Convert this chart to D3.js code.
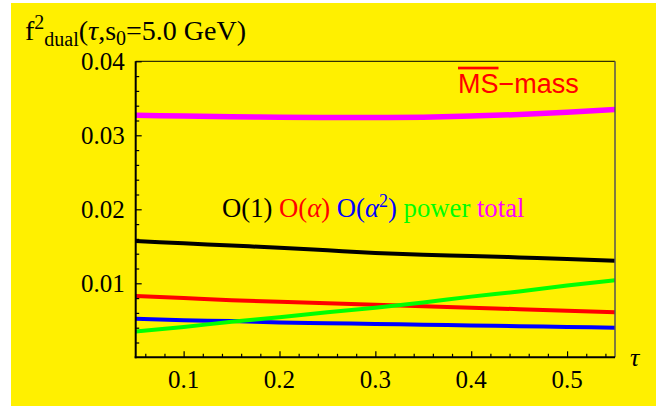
<!DOCTYPE html>
<html>
<head>
<meta charset="utf-8">
<script src="https://cdn.jsdelivr.net/npm/d3@7"></script>
<style>
  body { margin: 0; background: #fff; }
</style>
</head>
<body>
<svg id="chart" width="669" height="407" font-family="'Liberation Serif', 'DejaVu Serif', serif"></svg>
<script>
// tau values (x) and the read-off curves
const tau = [0.05, 0.1, 0.15, 0.2, 0.25, 0.3, 0.35, 0.4, 0.45, 0.5, 0.55];
const order1 = [0.0157, 0.0154, 0.0151, 0.0148, 0.01445, 0.0141, 0.01385, 0.0137, 0.0135, 0.0133, 0.01305];
const orderAlpha = [0.0083, 0.0080, 0.0077, 0.0075, 0.0073, 0.0071, 0.0069, 0.0067, 0.0065, 0.0063, 0.0061];
const orderAlpha2 = [0.0052, 0.0050, 0.0049, 0.0047, 0.0046, 0.0045, 0.0044, 0.0043, 0.0042, 0.0041, 0.0040];
const power = [0.0035, 0.0041, 0.0048, 0.0054, 0.0061, 0.0067, 0.0074, 0.0082, 0.0089, 0.0097, 0.0104];
const total = [0.0327, 0.0326, 0.0325, 0.03245, 0.0324, 0.0324, 0.03245, 0.0326, 0.0328, 0.0331, 0.0335];

const xTicks = [0.1, 0.2, 0.3, 0.4, 0.5];
const yTicks = [0.01, 0.02, 0.03, 0.04];

const series = [
  { name: 'total', values: total, color: '#ff00ff', width: 5.5 },
  { name: 'O(1)', values: order1, color: '#000000', width: 4 },
  { name: 'O(alpha)', values: orderAlpha, color: '#ff0000', width: 4 },
  { name: 'O(alpha2)', values: orderAlpha2, color: '#0000ff', width: 4 },
  { name: 'power', values: power, color: '#00ff00', width: 4 }
];

const serif = "'Liberation Serif', 'DejaVu Serif', serif";
const sans = "'Liberation Sans', Arial, sans-serif";

const svg = d3.select('#chart');

// yellow panel
svg.append('rect')
  .attr('x', 11).attr('y', 3)
  .attr('width', 645).attr('height', 403)
  .attr('fill', '#fff000');

const x = d3.scaleLinear().domain([0.05, 0.55]).range([135.7, 615]);
const y = d3.scaleLinear().domain([0, 0.04]).range([357.3, 61.3]);

// curves
const line = d3.line()
  .x((d, i) => x(tau[i]))
  .y(d => y(d))
  .curve(d3.curveMonotoneX);

svg.append('clipPath').attr('id', 'plot-clip')
  .append('rect')
  .attr('x', x(0.05)).attr('y', y(0.04))
  .attr('width', x(0.55) - x(0.05)).attr('height', y(0) - y(0.04));

svg.append('g')
  .attr('clip-path', 'url(#plot-clip)')
  .selectAll('path')
  .data(series)
  .join('path')
  .attr('d', d => line(d.values))
  .attr('fill', 'none')
  .attr('stroke', d => d.color)
  .attr('stroke-width', d => d.width);

// frame: top + right
svg.append('line')
  .attr('x1', x(0.05)).attr('x2', x(0.55))
  .attr('y1', y(0.04)).attr('y2', y(0.04))
  .attr('stroke', '#000').attr('stroke-width', 1);
svg.append('line')
  .attr('x1', x(0.55)).attr('x2', x(0.55))
  .attr('y1', y(0.04)).attr('y2', y(0))
  .attr('stroke', '#555').attr('stroke-width', 1.5);

// axes with inward ticks
const xMinor = d3.range(0.06, 0.551, 0.02).filter(v => !xTicks.some(t => Math.abs(t - v) < 1e-6));
const yMinor = d3.range(0.002, 0.0401, 0.002).filter(v => !yTicks.some(t => Math.abs(t - v) < 1e-6));

const xAxis = svg.append('g').attr('transform', `translate(0,${y(0)})`);
xAxis.append('g')
  .call(d3.axisTop(x).tickValues(xMinor).tickSize(3.5).tickFormat(''))
  .call(g => g.select('.domain').remove());
xAxis.append('g')
  .call(d3.axisTop(x).tickValues(xTicks).tickSize(6).tickFormat(''))
  .call(g => g.select('.domain').remove());
xAxis.selectAll('.tick line').attr('stroke', '#000').attr('stroke-width', 1.2);
xAxis.append('line')
  .attr('x1', x(0.05) - 1).attr('x2', x(0.55))
  .attr('stroke', '#000').attr('stroke-width', 2);
xAxis.selectAll('.xlabel')
  .data(xTicks)
  .join('text')
  .attr('class', 'xlabel')
  .attr('x', d => x(d))
  .attr('y', 31)
  .attr('text-anchor', 'middle')
  .attr('font-family', serif)
  .attr('font-size', 25)
  .text(d => d3.format('.1f')(d));

const yAxis = svg.append('g').attr('transform', `translate(${x(0.05)},0)`);
yAxis.append('g')
  .call(d3.axisRight(y).tickValues(yMinor).tickSize(3.5).tickFormat(''))
  .call(g => g.select('.domain').remove());
yAxis.append('g')
  .call(d3.axisRight(y).tickValues(yTicks).tickSize(6).tickFormat(''))
  .call(g => g.select('.domain').remove());
yAxis.selectAll('.tick line').attr('stroke', '#000').attr('stroke-width', 1.2);
yAxis.append('line')
  .attr('y1', y(0.04)).attr('y2', y(0) + 1)
  .attr('stroke', '#000').attr('stroke-width', 2);
yAxis.selectAll('.ylabel')
  .data(yTicks)
  .join('text')
  .attr('class', 'ylabel')
  .attr('x', -11)
  .attr('y', d => y(d) + 8.5)
  .attr('text-anchor', 'end')
  .attr('font-family', serif)
  .attr('font-size', 25)
  .text(d => d3.format('.2f')(d));

// axis name tau
svg.append('text')
  .attr('x', 630).attr('y', 366)
  .attr('font-family', serif)
  .attr('font-size', 26)
  .attr('font-style', 'italic')
  .text('τ');

// title
const title = svg.append('text')
  .attr('x', 25).attr('y', 40)
  .attr('font-family', serif)
  .attr('font-size', 28);
title.append('tspan').text('f');
title.append('tspan').attr('font-size', 20).attr('dy', -11).text('2');
title.append('tspan').attr('font-size', 20).attr('dy', 17).text('dual');
title.append('tspan').attr('dy', -6).text('(');
title.append('tspan').attr('font-style', 'italic').text('τ');
title.append('tspan').text(',s');
title.append('tspan').attr('font-size', 20).attr('dy', 5).text('0');
title.append('tspan').attr('dy', -5).text('=5.0 GeV)');

// MS-bar mass label
const ms = svg.append('text')
  .attr('x', 458).attr('y', 92.7)
  .attr('fill', '#ff0000')
  .attr('font-size', 27)
  .attr('font-family', sans);
ms.append('tspan').style('text-decoration', 'overline').text('MS');
ms.append('tspan').text('−mass');

// legend line
const legend = svg.append('text')
  .attr('x', 222).attr('y', 217)
  .attr('font-family', serif)
  .attr('font-size', 26.7);
legend.append('tspan').attr('fill', '#000').text('O(1) ');
legend.append('tspan').attr('fill', '#ff0000').text('O(');
legend.append('tspan').attr('fill', '#ff0000').attr('font-style', 'italic').text('α');
legend.append('tspan').attr('fill', '#ff0000').text(') ');
legend.append('tspan').attr('fill', '#0000ff').text('O(');
legend.append('tspan').attr('fill', '#0000ff').attr('font-style', 'italic').text('α');
legend.append('tspan').attr('fill', '#0000ff').attr('font-size', 18).attr('dy', -10).text('2');
legend.append('tspan').attr('fill', '#0000ff').attr('dy', 10).text(') ');
legend.append('tspan').attr('fill', '#00ff00').text('power ');
legend.append('tspan').attr('fill', '#ff00ff').text('total');
</script>
</body>
</html>
